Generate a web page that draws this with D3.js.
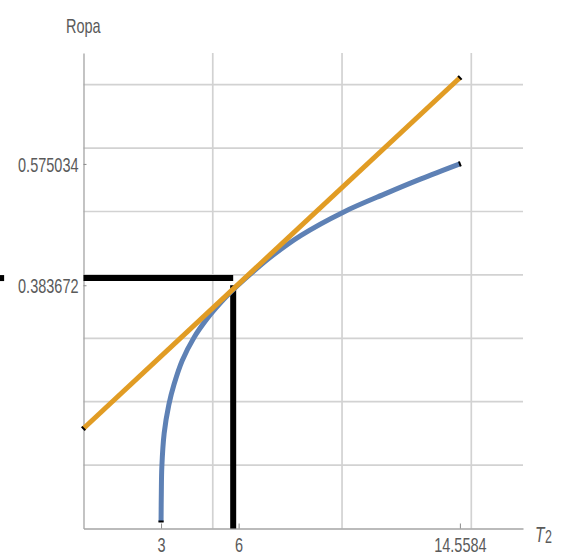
<!doctype html>
<html>
	<head>
		<title>Ropa vs T2</title>
		<meta charset="utf-8"/>
		<script src="https://cdnjs.cloudflare.com/ajax/libs/d3/7.8.5/d3.min.js"></script>
		<style>
			body { margin: 0; background: white; }
			text { font-family: "Liberation Sans", Arial, sans-serif; fill: #5a5a5a; }
		</style>
	</head>
<body>

	<svg width="563" height="557"></svg>

	<script>
		// curve
		var tValues    = [3.0, 3.01, 3.03, 3.12, 3.3, 3.5, 3.82, 4.27, 4.78, 5.3, 5.7, 6.2, 7.2, 8.4, 10.05, 11.73, 13.03, 14.5584];
		var ropaValues = [0.011, 0.055, 0.097, 0.15, 0.195, 0.227, 0.265, 0.301, 0.331, 0.356, 0.373, 0.392, 0.427, 0.462, 0.499, 0.529, 0.551, 0.575034];

		// tangent line
		var tangentT    = [0, 14.5584];
		var tangentRopa = [0.1577, 0.711];

		// black guide lines
		var guideT     = 5.79;
		var guideVTop  = 0.3837;
		var guideHRopa = 0.395;
		var guideStub  = [-3.23, -3.07];

		var xTicks = [3, 6, 14.5584];
		var xTickLabels = ["3", "6", "14.5584"];
		var yTicks = [0.383672, 0.575034];
		var yTickLabels = ["0.383672", "0.575034"];
		var xGrid = [5, 10, 15];
		var yGrid = [0.1, 0.2, 0.3, 0.4, 0.5, 0.6, 0.7];

		var svg = d3.select("svg");
		var stretch = "scale(1,1.45)";

		var xScale = d3.scaleLinear().domain([0, 17]).range([83.5, 523]);
		var yScale = d3.scaleLinear().domain([0, 0.75]).range([528.5, 53]);

		// grid
		svg.append("g").selectAll("line").data(yGrid).enter().append("line")
			.attr("x1", xScale(0)).attr("x2", xScale(17))
			.attr("y1", function (d) { return yScale(d); })
			.attr("y2", function (d) { return yScale(d); })
			.attr("stroke", "#d2d2d2").attr("stroke-width", 1.7);

		svg.append("g").selectAll("line").data(xGrid).enter().append("line")
			.attr("x1", function (d) { return xScale(d); })
			.attr("x2", function (d) { return xScale(d); })
			.attr("y1", yScale(0.75)).attr("y2", yScale(0))
			.attr("stroke", "#d2d2d2").attr("stroke-width", 1.7);

		// axes
		var xAxis = d3.axisBottom(xScale)
			.tickValues(xTicks)
			.tickFormat(function (d, i) { return xTickLabels[i]; })
			.tickSizeInner(-5)
			.tickSizeOuter(0);

		var yAxis = d3.axisLeft(yScale)
			.tickValues(yTicks)
			.tickFormat(function (d, i) { return yTickLabels[i]; })
			.tickSizeInner(-3)
			.tickSizeOuter(0);

		var xAxisG = svg.append("g").attr("transform", "translate(0," + yScale(0) + ")").call(xAxis);
		var yAxisG = svg.append("g").attr("transform", "translate(" + xScale(0) + ",0)").call(yAxis);

		[xAxisG, yAxisG].forEach(function (g) {
			g.select(".domain").attr("stroke", "#a4a4a4").attr("stroke-width", 1.3);
			g.selectAll(".tick line").attr("stroke", "#8a8a8a").attr("stroke-width", 1);
			g.selectAll("text").attr("font-size", "14.5px").attr("fill", "#5a5a5a")
				.attr("transform", stretch);
		});

		xAxisG.selectAll("text").attr("y", 16).attr("dy", 0);
		yAxisG.selectAll("text").attr("x", -5).attr("dy", "0.36em");

		// axis labels
		svg.append("text")
			.attr("transform", "translate(66,33) " + stretch)
			.attr("font-size", "14.5px")
			.text("Ropa");

		var t2 = svg.append("text")
			.attr("transform", "translate(535,542) " + stretch)
			.attr("font-size", "15.5px");
		t2.append("tspan").attr("font-style", "italic").text("T");
		t2.append("tspan").attr("font-size", "12.5px").attr("dx", 0.5).attr("dy", 1).text("2");

		// black guides
		svg.append("line")
			.attr("x1", xScale(0)).attr("x2", xScale(guideT))
			.attr("y1", yScale(guideHRopa)).attr("y2", yScale(guideHRopa))
			.attr("stroke", "black").attr("stroke-width", 6);

		svg.append("line")
			.attr("x1", xScale(guideStub[0])).attr("x2", xScale(guideStub[1]))
			.attr("y1", yScale(guideHRopa)).attr("y2", yScale(guideHRopa))
			.attr("stroke", "black").attr("stroke-width", 6);

		svg.append("line")
			.attr("x1", xScale(guideT)).attr("x2", xScale(guideT))
			.attr("y1", yScale(guideVTop)).attr("y2", yScale(0))
			.attr("stroke", "black").attr("stroke-width", 6);

		// curves
		var curveData = tValues.map(function (t, i) { return [t, ropaValues[i]]; });
		var tangentData = tangentT.map(function (t, i) { return [t, tangentRopa[i]]; });

		var line = d3.line()
			.x(function (d) { return xScale(d[0]); })
			.y(function (d) { return yScale(d[1]); });

		svg.append("path")
			.attr("d", line.curve(d3.curveCatmullRom.alpha(0.5))(curveData))
			.attr("fill", "none")
			.attr("stroke", "#5e81b5")
			.attr("stroke-width", 5);

		svg.append("path")
			.attr("d", line.curve(d3.curveLinear)(tangentData))
			.attr("fill", "none")
			.attr("stroke", "#e19c24")
			.attr("stroke-width", 5);

		// little black end marks
		function endMark(a, b) {
			var x0 = xScale(a[0]), y0 = yScale(a[1]);
			var dx = xScale(b[0]) - x0, dy = yScale(b[1]) - y0;
			var len = Math.sqrt(dx * dx + dy * dy);
			var nx = -dy / len * 2.6, ny = dx / len * 2.6;
			svg.append("line")
				.attr("x1", x0 - nx).attr("y1", y0 - ny)
				.attr("x2", x0 + nx).attr("y2", y0 + ny)
				.attr("stroke", "black").attr("stroke-width", 2);
		}

		var n = curveData.length;
		endMark(curveData[0], curveData[1]);
		endMark(curveData[n - 1], curveData[n - 2]);
		endMark(tangentData[0], tangentData[1]);
		endMark(tangentData[1], tangentData[0]);
	</script>

</body>
</html>
